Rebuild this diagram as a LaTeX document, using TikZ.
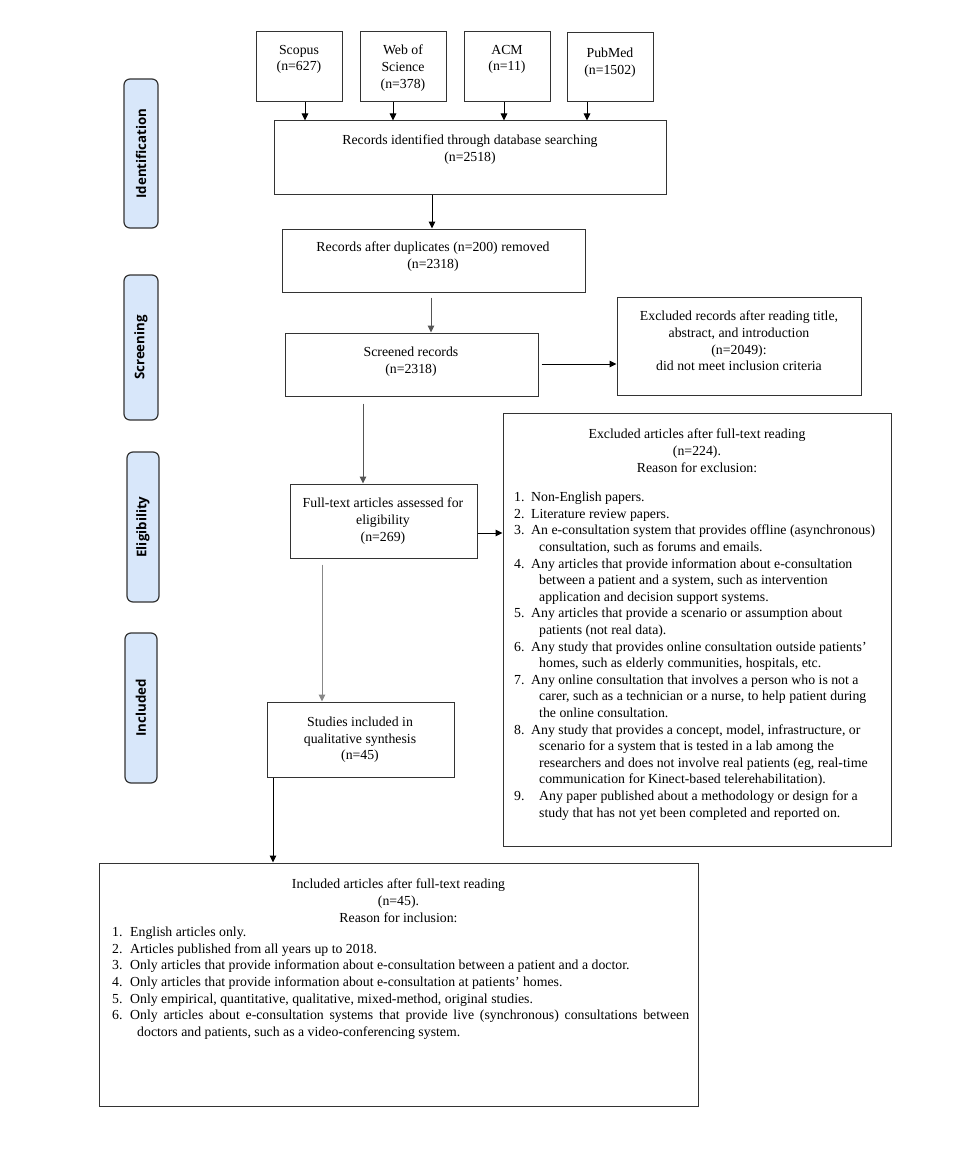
\documentclass[tikz,border=0pt]{standalone}
\usepackage{fontspec}
\setmainfont{Liberation Serif}
\newfontfamily\labfont{Open Sans}
\usetikzlibrary{arrows.meta,calc}
\definecolor{boxline}{HTML}{333333}
\definecolor{labfill}{HTML}{D8E7FA}
\definecolor{linegray}{HTML}{555555}
\definecolor{lightline}{HTML}{888888}
\newcommand\bx[6][]{\node[box,#1,minimum width={(#5-#3)*1pt},minimum height={(#6-#4)*1pt}] (#2) at ({(#3+#5)/2},{(#4+#6)/2}) {};}
\newcommand\itm[2]{\makebox[17pt][l]{#1}#2}
\newcommand\cnt[1]{\hspace*{25pt}#1}
\begin{document}
\begin{tikzpicture}[x=1pt,y=-1pt,
  font=\fontsize{13.8}{16.6}\selectfont,
  box/.style={draw=boxline,line width=1pt,inner sep=0pt},
  txt/.style={inner sep=0pt,align=center,anchor=north},
  ltxt/.style={inner sep=0pt,align=left,anchor=north west},
  stage/.style={draw=boxline,line width=1.2pt,fill=labfill,rounded corners=6pt,inner sep=0pt},
  stagetxt/.style={rotate=90,inner sep=0pt,font=\labfont\bfseries\fontsize{13.3}{16}\selectfont},
  conn/.style={line width=1pt,draw=black,-{Triangle[length=7pt,width=6.5pt]}},
]
\useasboundingbox (0,0) rectangle (974,1169);
\fill[white] (0,0) rectangle (974,1169);

% stage labels
\bx[stage]{idl}{124}{79}{158}{228}
\bx[stage]{scl}{124}{275}{158}{420}
\bx[stage]{ell}{127}{452}{159}{602}
\bx[stage]{inl}{125}{633}{157}{783}
\node[stagetxt] (idlt) at (idl.center) {Identification};
\node[stagetxt] (sclt) at (scl.center) {Screening};
\node[stagetxt] (ellt) at (ell.center) {Eligibility};
\node[stagetxt] (inlt) at (inl.center) {Included};

% boxes
\bx{scopus}{256}{32}{342}{102}
\bx{wos}{360}{32}{446}{102}
\bx{acm}{464}{32}{550}{102}
\bx{pubmed}{567}{33}{653}{102}
\bx{rid}{274}{121}{666}{195}
\bx{dup}{282}{229}{585}{292}
\bx{scr}{285}{333}{538}{396}
\bx{exr}{617}{297}{861}{395}
\bx{ft}{290}{484}{477}{558}
\bx{exa}{503}{413}{891}{846}
\bx{stu}{267}{702}{454}{777}
\bx{inc}{99}{863}{698}{1106}

% texts
\node[txt] (scopust) at (299,45) {Scopus\\(n=627)};
\node[txt] (wost) at (403,45) {Web of\\Science\\(n=378)};
\node[txt] (acmt) at (507,45) {ACM\\(n=11)};
\node[txt] (pubmedt) at (610,48) {PubMed\\(n=1502)};
\node[txt] (ridt) at (470,135) {Records identified through database searching\\(n=2518)};
\node[txt] (dupt) at (433,242) {Records after duplicates (n=200) removed\\(n=2318)};
\node[txt] (scrt) at (411,347) {Screened records\\(n=2318)};
\node[txt] (exrt) at (739,311) {Excluded records after reading title,\\abstract, and introduction\\(n=2049):\\did not meet inclusion criteria};
\node[txt] (ftt) at (383,498) {Full-text articles assessed for\\eligibility\\(n=269)};
\node[txt] (stut) at (360,717) {Studies included in\\qualitative synthesis\\(n=45)};
\node[txt] (exat) at (697,429) {Excluded articles after full-text reading\\(n=224).\\Reason for exclusion:};
\node[ltxt] (exal) at (514,492) {%
\itm{1.}{Non-English papers.}\\
\itm{2.}{Literature review papers.}\\
\itm{3.}{An e-consultation system that provides offline (asynchronous)}\\
\cnt{consultation, such as forums and emails.}\\
\itm{4.}{Any articles that provide information about e-consultation}\\
\cnt{between a patient and a system, such as intervention}\\
\cnt{application and decision support systems.}\\
\itm{5.}{Any articles that provide a scenario or assumption about}\\
\cnt{patients (not real data).}\\
\itm{6.}{Any study that provides online consultation outside patients’}\\
\cnt{homes, such as elderly communities, hospitals, etc.}\\
\itm{7.}{Any online consultation that involves a person who is not a}\\
\cnt{carer, such as a technician or a nurse, to help patient during}\\
\cnt{the online consultation.}\\
\itm{8.}{Any study that provides a concept, model, infrastructure, or}\\
\cnt{scenario for a system that is tested in a lab among the}\\
\cnt{researchers and does not involve real patients (eg, real-time}\\
\cnt{communication for Kinect-based telerehabilitation).}\\
\makebox[25pt][l]{9.}Any paper published about a methodology or design for a\\
\cnt{study that has not yet been completed and reported on.}};
\node[txt] (inct) at (398.5,879) {Included articles after full-text reading\\(n=45).\\Reason for inclusion:};
\node[ltxt] (incl) at (112,927) {%
\makebox[18pt][l]{1.}English articles only.\\
\makebox[18pt][l]{2.}Articles published from all years up to 2018.\\
\makebox[18pt][l]{3.}Only articles that provide information about e-consultation between a patient and a doctor.\\
\makebox[18pt][l]{4.}Only articles that provide information about e-consultation at patients’ homes.\\
\makebox[18pt][l]{5.}Only empirical, quantitative, qualitative, mixed-method, original studies.\\
\makebox[18pt][l]{6.}\makebox[559pt][s]{Only articles about e-consultation systems that provide live (synchronous) consultations between}\\
\hspace*{25pt}doctors and patients, such as a video-conferencing system.};

% connectors
\draw[conn] (305,0 |- scopus.south) -- (305,0 |- rid.north);
\draw[conn] (393,0 |- wos.south) -- (393,0 |- rid.north);
\draw[conn] (504,0 |- acm.south) -- (504,0 |- rid.north);
\draw[conn] (587,0 |- pubmed.south) -- (587,0 |- rid.north);
\draw[conn] (432,0 |- rid.south) -- (432,0 |- dup.north);
\draw[conn,draw=linegray] ($(431,0 |- dup.south)+(0,5)$) -- (431,0 |- scr.north);
\draw[conn] ($(scr.east |- 0,364)+(3,0)$) -- (exr.west |- 0,364);
\draw[conn,draw=linegray] ($(363,0 |- scr.south)+(0,7)$) -- (363,0 |- ft.north);
\draw[conn] (ft.east |- 0,533) -- (exa.west |- 0,533);
\draw[conn,draw=lightline] ($(322,0 |- ft.south)+(0,6)$) -- (322,0 |- stu.north);
\draw[conn] (273,0 |- stu.south) -- (273,0 |- inc.north);
\end{tikzpicture}
\end{document}
